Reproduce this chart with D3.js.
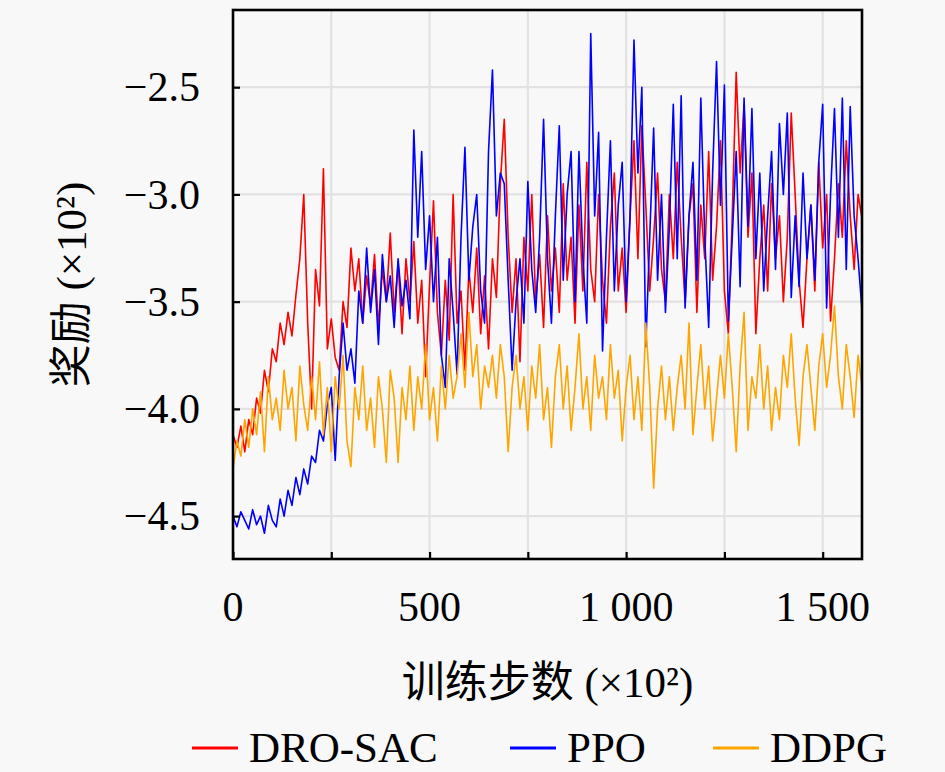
<!DOCTYPE html>
<html>
<head>
<meta charset="utf-8">
<script src="https://cdn.jsdelivr.net/npm/d3@7/dist/d3.min.js"></script>
<style>
html,body{margin:0;padding:0;background:#f8f8f8;}
svg{display:block;}
</style>
</head>
<body>
<svg id="chart" width="945" height="772"></svg>
<script>
// ---- data (reward ×10², training steps ×10²) ----
const stepSize = 10; // steps between recorded points (×10²)
const xTicks = [0, 250, 500, 750, 1000, 1250, 1500];
const xTickLabels = ["0", "", "500", "", "1 000", "", "1 500"];
const yTicks = [-2.5, -3.0, -3.5, -4.0, -4.5];
const yTickLabels = ["\u22122.5", "\u22123.0", "\u22123.5", "\u22124.0", "\u22124.5"];
const seriesNames = ["DRO-SAC", "PPO", "DDPG"];

const droSac = [
 -4.12,-4.18,-4.08,-4.20,-4.05,-4.12,-3.95,-4.02,-3.82,-3.92,-3.72,
 -3.78,-3.60,-3.70,-3.55,-3.66,-3.47,-3.30,-3.00,-3.60,-4.00,
 -3.35,-3.52,-2.88,-3.72,-3.58,-3.76,-3.82,-3.50,-3.62,-3.25,
 -3.45,-3.30,-3.60,-3.38,-3.52,-3.28,-3.62,-3.35,-3.50,-3.18,
 -3.55,-3.32,-3.65,-3.30,-3.50,-3.22,-3.60,-3.40,-3.85,-3.42,
 -3.03,-3.55,-3.75,-3.40,-3.68,-3.00,-3.60,-3.45,-3.82,-3.35,
 -3.55,-3.25,-3.65,-3.38,-3.72,-3.30,-3.48,-2.95,-2.65,-3.20,
 -3.55,-3.30,-3.78,-3.20,-3.45,-3.00,-3.50,-3.28,-3.62,-3.10,
 -3.45,-3.25,-3.55,-2.95,-3.40,-3.20,-3.60,-3.05,-3.45,-2.85,
 -3.35,-3.50,-3.00,-3.40,-3.60,-3.15,-2.90,-3.45,-3.25,-3.55,
 -3.10,-2.75,-3.30,-2.68,-3.05,-3.45,-3.20,-2.90,-3.35,-3.50,
 -3.00,-3.30,-2.85,-3.20,-3.50,-3.10,-2.95,-3.55,-3.05,-3.30,
 -2.80,-3.40,-3.15,-2.75,-3.45,-3.65,-3.10,-2.43,-2.90,-2.58,
 -3.20,-2.90,-3.65,-3.30,-3.05,-3.45,-2.95,-3.30,-3.10,-3.50,
 -3.20,-2.62,-3.00,-3.40,-3.62,-3.30,-3.05,-3.45,-2.85,-3.25,
 -3.00,-3.59,-3.30,-2.95,-3.20,-2.75,-3.10,-3.35,-3.00,-3.11,-3.50
];
const ppo = [
 -4.50,-4.55,-4.48,-4.52,-4.56,-4.47,-4.54,-4.50,-4.58,-4.45,-4.52,
 -4.55,-4.42,-4.50,-4.38,-4.45,-4.32,-4.40,-4.28,-4.35,-4.22,
 -4.25,-4.10,-4.15,-3.98,-3.90,-4.24,-3.85,-3.60,-3.82,-3.72,
 -3.88,-3.45,-3.60,-3.25,-3.55,-3.35,-3.70,-3.28,-3.50,-3.38,
 -3.62,-3.30,-3.52,-3.40,-3.58,-2.70,-3.20,-2.80,-3.35,-3.10,
 -3.50,-3.20,-3.75,-3.90,-3.30,-3.55,-3.84,-3.20,-2.78,-3.40,
 -3.15,-3.00,-3.45,-3.60,-2.80,-2.42,-3.10,-2.90,-2.95,-3.40,
 -3.82,-3.50,-3.30,-3.60,-2.94,-3.35,-3.55,-3.20,-2.65,-3.30,
 -3.60,-3.10,-2.68,-3.40,-3.00,-2.80,-3.50,-2.80,-3.30,-3.60,
 -2.25,-3.10,-2.71,-3.73,-3.20,-2.75,-3.45,-3.05,-2.85,-3.50,
 -3.10,-2.28,-2.90,-2.50,-3.71,-3.20,-2.69,-3.40,-3.00,-3.55,
 -3.15,-2.58,-3.30,-2.54,-3.53,-3.10,-2.85,-3.40,-2.55,-3.20,
 -3.62,-2.90,-2.38,-3.05,-2.49,-3.59,-3.20,-2.80,-3.43,-2.55,
 -3.15,-2.60,-3.30,-2.90,-3.45,-3.10,-2.80,-3.35,-2.67,-3.00,
 -2.62,-3.48,-3.10,-3.43,-2.90,-3.30,-3.05,-3.40,-2.85,-2.58,
 -3.53,-3.00,-2.60,-3.20,-2.55,-3.35,-2.59,-3.10,-3.30,-3.54
];
const ddpg = [
 -4.28,-4.15,-4.22,-4.05,-4.18,-4.00,-4.12,-3.92,-4.20,-3.85,-4.05,
 -3.95,-4.10,-3.82,-4.00,-3.90,-4.15,-3.80,-3.98,-4.10,-3.85,
 -4.05,-3.78,-4.12,-3.90,-4.20,-3.85,-4.00,-3.75,-4.15,-4.27,
 -3.90,-4.05,-3.80,-4.10,-3.95,-4.18,-3.85,-4.00,-4.25,-3.82,
 -3.95,-4.25,-3.90,-4.05,-3.80,-4.10,-3.85,-4.00,-3.70,-4.05,
 -3.90,-4.15,-3.80,-4.00,-3.75,-3.95,-3.85,-3.65,-3.90,-3.55,
 -3.85,-3.70,-4.00,-3.80,-3.90,-3.75,-3.95,-3.70,-3.85,-4.20,
 -3.90,-3.75,-4.00,-3.85,-4.10,-3.80,-3.95,-3.70,-4.05,-3.90,
 -4.18,-3.85,-3.70,-4.00,-3.80,-4.10,-3.90,-3.65,-4.00,-3.85,
 -4.10,-3.75,-3.95,-3.85,-4.05,-3.70,-3.95,-3.82,-4.15,-3.90,
 -3.75,-4.05,-3.85,-4.10,-3.60,-3.90,-4.37,-4.00,-3.80,-4.05,
 -3.85,-4.10,-3.90,-3.75,-4.00,-3.60,-4.12,-3.90,-3.70,-4.00,
 -3.80,-4.15,-3.95,-3.75,-3.95,-3.65,-3.90,-4.20,-3.80,-3.55,
 -4.10,-3.85,-3.95,-3.70,-4.00,-3.80,-4.10,-3.90,-4.05,-3.75,
 -3.90,-3.65,-3.95,-4.17,-3.85,-3.70,-3.90,-4.10,-3.80,-3.65,
 -3.90,-3.75,-3.52,-3.85,-4.00,-3.70,-3.85,-4.04,-3.75,-3.90
];
const seriesValues = [droSac, ppo, ddpg];
const seriesColors = ["#ff0000", "#0000ff", "#ffa500"];

const FONT = "'Liberation Serif', 'DejaVu Serif', 'Noto Sans CJK SC', serif";

// ---- layout ----
const svg = d3.select("#chart");
const L = 233, R = 862, T = 10, B = 559;
const x = d3.scaleLinear().domain([0, 1600]).range([L, R]);
const y = d3.scaleLinear().domain([-4.7, -2.14]).range([B, T]);

// background grid
const grid = svg.append("g");
grid.selectAll("line.v").data(xTicks.filter(d => d > 0)).enter().append("line")
  .attr("x1", d => x(d)).attr("x2", d => x(d)).attr("y1", T).attr("y2", B)
  .attr("stroke", "#e2e2e2").attr("stroke-width", 2.2);
grid.selectAll("line.h").data(yTicks).enter().append("line")
  .attr("x1", L).attr("x2", R).attr("y1", d => y(d)).attr("y2", d => y(d))
  .attr("stroke", "#e2e2e2").attr("stroke-width", 2.2);

// clip
svg.append("clipPath").attr("id", "clip").append("rect")
  .attr("x", L).attr("y", T).attr("width", R - L).attr("height", B - T);

const line = d3.line().x((d, i) => x(i * stepSize)).y(d => y(d));
const lines = svg.append("g").attr("clip-path", "url(#clip)");
seriesValues.forEach((vals, k) => {
  lines.append("path").datum(vals)
    .attr("d", line).attr("fill", "none")
    .attr("stroke", seriesColors[k]).attr("stroke-width", 1.6)
    .attr("stroke-linejoin", "round");
});

// axes with inward ticks
const xAxis = d3.axisBottom(x).tickValues(xTicks).tickSize(-7).tickFormat("");
const yAxis = d3.axisLeft(y).tickValues(yTicks).tickSize(-7).tickFormat("");
const gx = svg.append("g").attr("transform", `translate(0,${B})`).call(xAxis);
const gy = svg.append("g").attr("transform", `translate(${L},0)`).call(yAxis);
[gx, gy].forEach(g => {
  g.select(".domain").remove();
  g.selectAll(".tick line").attr("stroke", "#000").attr("stroke-width", 2.2);
});

// frame
svg.append("rect").attr("x", L).attr("y", T).attr("width", R - L).attr("height", B - T)
  .attr("fill", "none").attr("stroke", "#000").attr("stroke-width", 2.6);

// tick labels
svg.append("g").selectAll("text").data(xTicks).enter().append("text")
  .attr("x", d => x(d)).attr("y", 621).attr("text-anchor", "middle")
  .style("font-family", FONT).attr("font-size", 42).text((d, i) => xTickLabels[i]);
svg.append("g").selectAll("text").data(yTicks).enter().append("text")
  .attr("x", 200).attr("y", d => y(d)).attr("dy", "0.34em").attr("text-anchor", "end")
  .style("font-family", FONT).attr("font-size", 42).text((d, i) => yTickLabels[i]);

// axis titles
svg.append("text").attr("x", (L + R) / 2).attr("y", 697).attr("text-anchor", "middle")
  .style("font-family", FONT).attr("font-size", 43).text("训练步数 (×10²)");
svg.append("text").attr("transform", `translate(86,${(T + B) / 2}) rotate(-90)`)
  .attr("text-anchor", "middle").style("font-family", FONT).attr("font-size", 43)
  .text("奖励 (×10²)");

// legend
const legX = [192, 510, 713];
const leg = svg.append("g");
seriesNames.forEach((n, k) => {
  leg.append("line").attr("x1", legX[k]).attr("x2", legX[k] + 46)
    .attr("y1", 748).attr("y2", 748).attr("stroke", seriesColors[k]).attr("stroke-width", 3);
  leg.append("text").attr("x", legX[k] + 57).attr("y", 762)
    .style("font-family", FONT).attr("font-size", 43).text(n);
});
</script>
</body>
</html>
